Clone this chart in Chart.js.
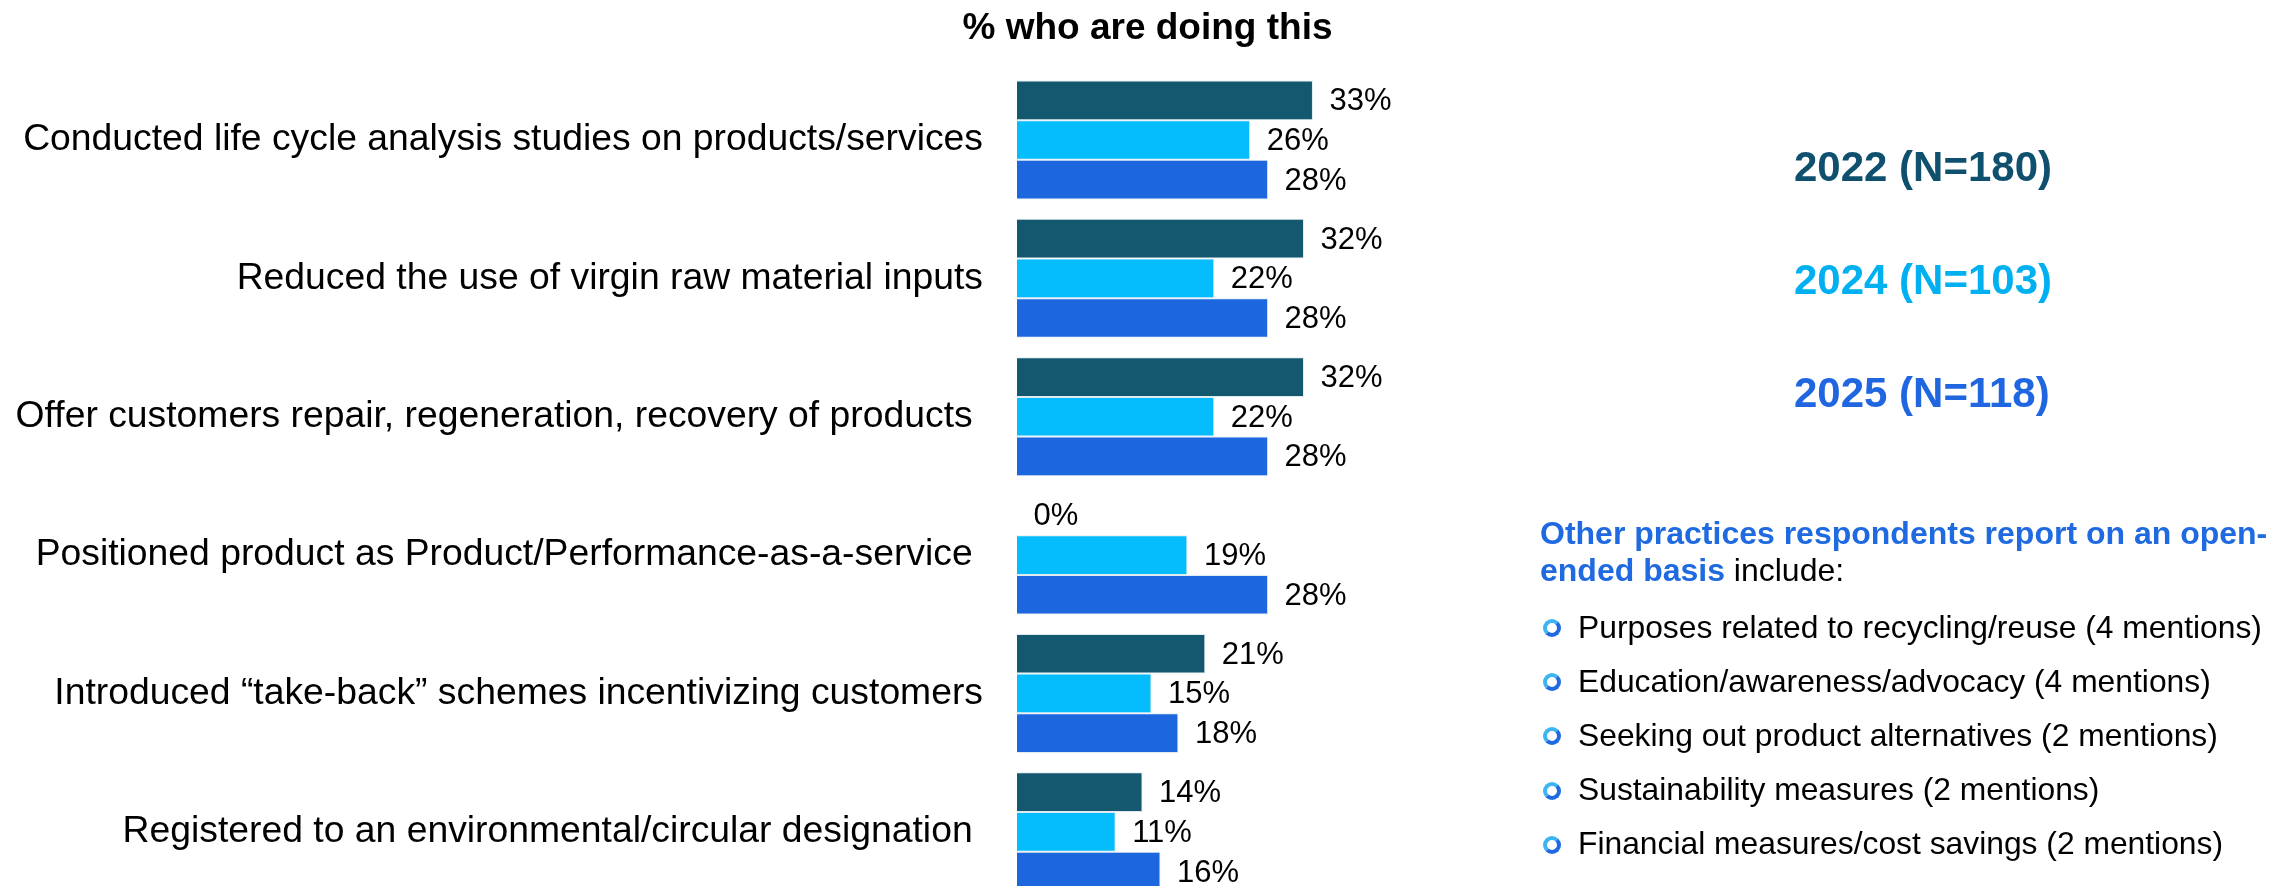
<!DOCTYPE html>
<html>
<head>
<meta charset="utf-8">
<title>Circular economy practices</title>
<script src="https://cdn.jsdelivr.net/npm/chart.js@4.4.0/dist/chart.umd.min.js"></script>
<style>
  html, body { margin: 0; padding: 0; background: #fff; overflow: hidden; }
  body { width: 2295px; height: 886px; position: relative; font-family: "Liberation Sans", Arial, sans-serif; }
  #chartWrap { position: absolute; left: 0; top: 0; width: 2295px; height: 901px; }
  #years { position: absolute; left: 1794px; top: 0; }
  .year { position: absolute; left: 0; white-space: nowrap; font-size: 42px; font-weight: bold; line-height: 42px; }
  #note { position: absolute; left: 1540px; top: 514.7px; font-size: 32px; line-height: 37.4px; white-space: nowrap; color: #000; }
  #note b { color: #1f6ae0; }
  #practices { list-style: none; margin: 0; padding: 0; position: absolute; left: 1543px; top: 599.5px; }
  #practices li { position: relative; height: 54.2px; line-height: 54.2px; font-size: 31.8px; padding-left: 35px; white-space: nowrap; color: #000; }
  #practices li::before {
    content: ""; position: absolute; left: 0; top: 19.5px; width: 10px; height: 10px;
    border: 4.2px solid #1f6ae0; border-top-color: #3db5f2; border-left-color: #3db5f2; border-radius: 50%;
  }
</style>
</head>
<body>
<div id="chartWrap"><canvas id="chart"></canvas></div>
<div id="years"></div>
<div id="note"><b>Other practices respondents report on an open-<br>ended basis</b> include:</div>
<ul id="practices"></ul>

<script>
const categories = [
  "Conducted life cycle analysis studies on products/services",
  "Reduced the use of virgin raw material inputs",
  "Offer customers repair, regeneration, recovery of products ",
  "Positioned product as Product/Performance-as-a-service ",
  "Introduced \u201Ctake-back\u201D schemes incentivizing customers",
  "Registered to an environmental/circular designation "
];
const years = ["2022", "2024", "2025"];
const sampleSizes = [180, 103, 118];
const values2022 = [33, 32, 32, 0, 21, 14];
const values2024 = [26, 22, 22, 19, 15, 11];
const values2025 = [28, 28, 28, 28, 18, 16];
const otherPractices = [
  "Purposes related to recycling/reuse (4 mentions)",
  "Education/awareness/advocacy (4 mentions)",
  "Seeking out product alternatives (2 mentions)",
  "Sustainability measures (2 mentions)",
  "Financial measures/cost savings (2 mentions)"
];

const barColors = ["#13586f", "#05bcfc", "#1d67de"];
const textColors = ["#0e506d", "#00b0f0", "#1f66e0"];
const fontFamily = "'Liberation Sans', Arial, sans-serif";

// year / sample size key on the right
const yearsBox = document.getElementById("years");
years.forEach((y, i) => {
  const div = document.createElement("div");
  div.className = "year";
  div.style.top = (146.1 + i * 112.8) + "px";
  div.style.color = textColors[i];
  div.textContent = `${y} (N=${sampleSizes[i]})`;
  yearsBox.appendChild(div);
});

const list = document.getElementById("practices");
otherPractices.forEach(p => {
  const li = document.createElement("li");
  li.textContent = p;
  list.appendChild(li);
});

// percent labels just past the end of each bar
const valueLabels = {
  id: "valueLabels",
  afterDatasetsDraw(chart) {
    const ctx = chart.ctx;
    ctx.save();
    ctx.font = "31px " + fontFamily;
    ctx.fillStyle = "#000";
    ctx.textBaseline = "middle";
    ctx.textAlign = "left";
    chart.data.datasets.forEach((ds, i) => {
      chart.getDatasetMeta(i).data.forEach((bar, j) => {
        ctx.fillText(ds.data[j] + "%", bar.x + 16.5, bar.y + 1.5);
      });
    });
    ctx.restore();
  }
};

const seriesValues = [values2022, values2024, values2025];

new Chart(document.getElementById("chart"), {
  type: "bar",
  data: {
    labels: categories,
    datasets: years.map((y, i) => ({
      label: y,
      data: seriesValues[i],
      backgroundColor: barColors[i],
      borderColor: "rgba(220, 232, 240, 0.9)",
      borderWidth: 1
    }))
  },
  options: {
    indexAxis: "y",
    responsive: true,
    maintainAspectRatio: false,
    animation: false,
    datasets: { bar: { categoryPercentage: 0.86, barPercentage: 1 } },
    plugins: {
      legend: { display: false },
      tooltip: { enabled: false },
      title: {
        display: true,
        text: "% who are doing this",
        color: "#000",
        font: { size: 37, weight: "bold", family: fontFamily },
        padding: { top: 6.8, bottom: 19.6 }
      }
    },
    scales: {
      x: { display: false, min: 0, max: 142.5 },
      y: {
        grid: { display: false, drawTicks: false },
        border: { display: false },
        ticks: { color: "#000", font: { size: 37.3, family: fontFamily }, padding: 34 },
        afterFit: scale => {
          // fixed label column; no extra room reserved above/below the bars
          scale.width = 1017;
          scale.paddingTop = 0;
          scale.paddingBottom = 0;
        }
      }
    }
  },
  plugins: [valueLabels]
});
</script>
</body>
</html>
